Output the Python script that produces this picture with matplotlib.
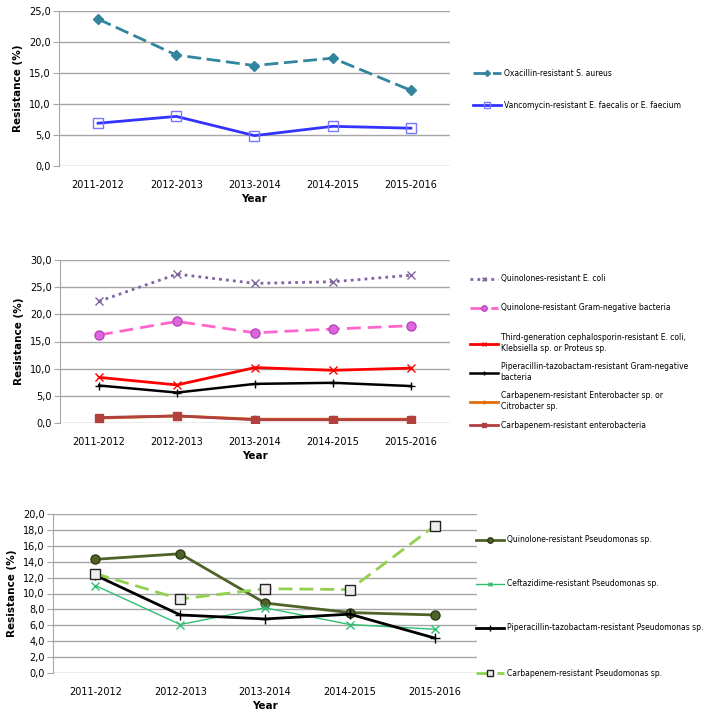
import matplotlib
matplotlib.use("Agg")
import matplotlib.pyplot as plt
from matplotlib.ticker import FuncFormatter

W, H = 706, 719

years = ["2011-2012", "2012-2013", "2013-2014", "2014-2015", "2015-2016"]

# panel 1: Gram-positive
oxacillin_sa = [23.7, 17.9, 16.2, 17.4, 12.2]
vancomycin_ef = [6.9, 8.0, 4.9, 6.4, 6.1]

# panel 2: Gram-negative
quinolone_ecoli = [22.4, 27.4, 25.7, 26.0, 27.2]
quinolone_gneg = [16.2, 18.7, 16.6, 17.3, 17.9]
third_gen_ceph = [8.4, 7.0, 10.2, 9.7, 10.1]
piptazo_gneg = [6.9, 5.6, 7.2, 7.4, 6.8]
carba_enterobacter = [0.9, 1.3, 0.7, 0.7, 0.7]
carba_enterobacteria = [1.0, 1.3, 0.6, 0.6, 0.6]

# panel 3: Pseudomonas
quinolone_pseudo = [14.3, 15.0, 8.8, 7.6, 7.3]
ceftazidime_pseudo = [11.0, 6.1, 8.2, 6.1, 5.5]
piptazo_pseudo = [12.3, 7.3, 6.8, 7.4, 4.4]
carba_pseudo = [12.5, 9.3, 10.6, 10.5, 18.5]

TICK_FS = 7
LEG_FS = 5.5
LINE_PX = 10  # approx. legend line height in pixels
comma = FuncFormatter(lambda v, _: f"{v:.1f}".replace(".", ","))


def px_axes(fig, left, top, right, bottom):
    return fig.add_axes([left / W, 1 - bottom / H, (right - left) / W, (bottom - top) / H])


def style(ax, ymax, step):
    ax.set_xlim(-0.5, len(years) - 0.5)
    ax.set_ylim(0, ymax)
    ax.set_yticks([i * step for i in range(int(round(ymax / step)) + 1)])
    ax.yaxis.set_major_formatter(comma)
    ax.set_xticks(range(len(years)))
    ax.set_xticklabels(years)
    ax.tick_params(axis="x", length=0, labelsize=TICK_FS, pad=10)
    ax.tick_params(axis="y", length=4, color="#a6a6a6", labelsize=TICK_FS, pad=2)
    ax.grid(axis="y", color="#a6a6a6", lw=1)
    ax.set_axisbelow(True)
    for s in ("top", "right", "bottom"):
        ax.spines[s].set_visible(False)
    ax.spines["left"].set_color("#a6a6a6")
    ax.set_ylabel("Resistance (%)", fontsize=7.5, fontweight="bold", labelpad=4)
    ax.set_xlabel("Year", fontsize=7.5, fontweight="bold", labelpad=3)


def add_legend(fig, ax, x, ys):
    # one small legend per entry so each row sits where the reference has it
    handles, labels = ax.get_legend_handles_labels()
    for h, lab, y in zip(handles, labels, ys):
        y = y + LINE_PX * lab.count("\n") / 2
        fig.legend([h], [lab], loc="center left",
                   bbox_to_anchor=(x / W, 1 - y / H), frameon=False,
                   fontsize=LEG_FS, handlelength=3.6, handletextpad=0.4,
                   borderaxespad=0, borderpad=0, markerscale=0.6)


fig = plt.figure(figsize=(W / 100, H / 100), dpi=100)
x = list(range(len(years)))

# ---- panel 1
ax1 = px_axes(fig, 59, 11, 450, 166)
ax1.plot(x, oxacillin_sa, color="#31859c", lw=2, ls=(0, (5, 2)), marker="D", ms=5,
         label="Oxacillin-resistant S. aureus")
ax1.plot(x, vancomycin_ef, color="#3333ff", lw=2, marker="s", ms=7, mfc="none",
         mec="#7777ff", label="Vancomycin-resistant E. faecalis or E. faecium")
style(ax1, 25, 5)
add_legend(fig, ax1, 473, [73, 105])

# ---- panel 2
ax2 = px_axes(fig, 60, 260, 450, 423)
ax2.plot(x, quinolone_ecoli, color="#8064a2", lw=2, ls=(0, (1, 1.5)), marker="x", ms=6,
         label="Quinolones-resistant E. coli")
ax2.plot(x, quinolone_gneg, color="#ff66cc", lw=2, ls=(0, (5, 2.5)), marker="o", ms=6.5,
         mfc="#dd66dd", mec="#bb44bb", label="Quinolone-resistant Gram-negative bacteria")
ax2.plot(x, third_gen_ceph, color="#ff0000", lw=2, marker="x", ms=6,
         label="Third-generation cephalosporin-resistant E. coli,\nKlebsiella sp. or Proteus sp.")
ax2.plot(x, piptazo_gneg, color="#000000", lw=1.8, marker="+", ms=6,
         label="Piperacillin-tazobactam-resistant Gram-negative\nbacteria")
ax2.plot(x, carba_enterobacter, color="#e46c0a", lw=2, marker="+", ms=6,
         label="Carbapenem-resistant Enterobacter sp. or\nCitrobacter sp.")
ax2.plot(x, carba_enterobacteria, color="#b0413e", lw=2, marker="s", ms=6,
         label="Carbapenem-resistant enterobacteria")
style(ax2, 30, 5)
add_legend(fig, ax2, 470, [279, 308, 338, 367, 396, 425])

# ---- panel 3
ax3 = px_axes(fig, 53, 514, 477, 673)
ax3.plot(x, quinolone_pseudo, color="#4f6228", lw=2, marker="o", ms=6.5,
         mec="#2b3a14", label="Quinolone-resistant Pseudomonas sp.")
ax3.plot(x, ceftazidime_pseudo, color="#2fbf71", lw=1, marker="x", ms=6,
         label="Ceftazidime-resistant Pseudomonas sp.")
ax3.plot(x, piptazo_pseudo, color="#000000", lw=2, marker="+", ms=7,
         label="Piperacillin-tazobactam-resistant Pseudomonas sp.")
ax3.plot(x, carba_pseudo, color="#92d050", lw=2, ls=(0, (5, 2.5)), marker="s", ms=6.5,
         mfc="#eeeeee", mec="#222222", label="Carbapenem-resistant Pseudomonas sp.")
style(ax3, 20, 2)
add_legend(fig, ax3, 476, [540, 584, 628, 673])

fig.savefig("out.png", dpi=100)
